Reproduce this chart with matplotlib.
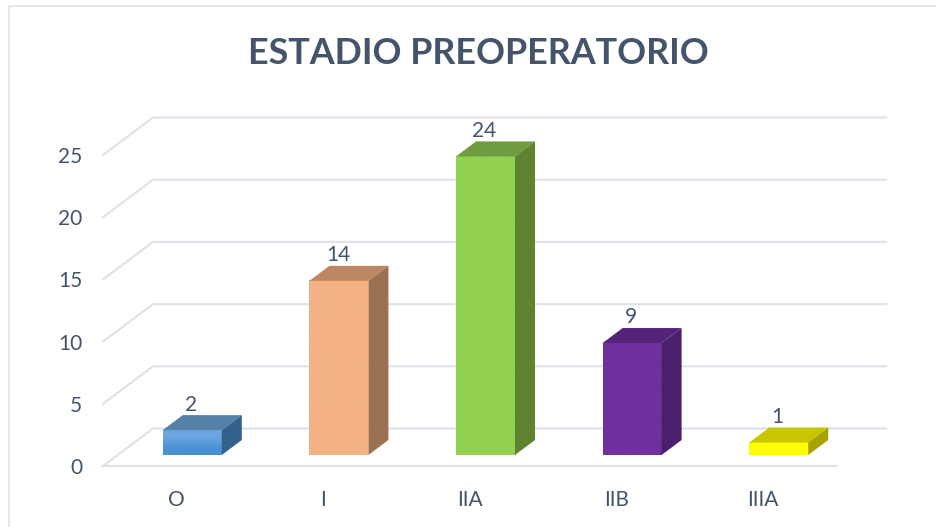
import numpy as np
import matplotlib
matplotlib.use('Agg')
import matplotlib.pyplot as plt
from matplotlib.patches import Polygon
from matplotlib.lines import Line2D

plt.rcParams['font.family'] = ['Lato', 'DejaVu Sans']

# data
categories = ['O', 'I', 'IIA', 'IIB', 'IIIA']
values = [2, 14, 24, 9, 1]
yticks = [0, 5, 10, 15, 20, 25]

# colours per bar
front_top = ['#6BA6E0', '#F4B183', '#92D050', '#7030A0', '#FFFF00']
front_bot = ['#4A8FD2', '#F4B183', '#92D050', '#7030A0', '#FFFF00']
top_col = ['#5680A8', '#BC8762', '#6F9C3E', '#55247A', '#C9C500']
side_col = ['#33608C', '#9C7152', '#5F8231', '#4A1F6C', '#A6A300']
grid_col = '#E1E3EA'
text_col = '#44546A'

W, H = 936, 527
fig = plt.figure(figsize=(W / 100, H / 100), dpi=100)
# front plane of the 3d box, in pixels: x 103-836, y 466-155
ax = fig.add_axes([103 / W, 1 - 466 / H, 733 / W, 311 / H])
ax.set_xlim(0, len(categories))
ax.set_ylim(0, 25)

# oblique offsets in data units
px = len(categories) / 733
py = 25 / 311
wall_dx, wall_dy = 50 * px, 37.5 * py
bar_dx, bar_dy = 16 * px, 11 * py
dep_dx, dep_dy = 20 * px, 15 * py
bar_w = 59 * px

# floor and walls
ax.plot([0, len(categories)], [0, 0], color=grid_col, lw=1.6, clip_on=False, zorder=1)
for t in yticks:
    ax.plot([0, wall_dx, len(categories) + wall_dx], [t, t + wall_dy, t + wall_dy],
            color=grid_col, lw=1.6, clip_on=False, zorder=1)

# bars
for i, v in enumerate(values):
    x0 = i + 0.5 + bar_dx - bar_w / 2
    x1 = x0 + bar_w
    y0 = bar_dy
    y1 = bar_dy + v
    grad = np.array([matplotlib.colors.to_rgb(front_top[i]), matplotlib.colors.to_rgb(front_bot[i])])
    ax.imshow(grad[:, None, :], extent=[x0, x1, y0, y1], aspect='auto',
              interpolation='bilinear', clip_on=False, zorder=3)
    ax.add_patch(Polygon([(x0, y1), (x1, y1), (x1 + dep_dx, y1 + dep_dy), (x0 + dep_dx, y1 + dep_dy)],
                         closed=True, fc=top_col[i], ec='none', clip_on=False, zorder=3))
    ax.add_patch(Polygon([(x1, y0), (x1 + dep_dx, y0 + dep_dy), (x1 + dep_dx, y1 + dep_dy), (x1, y1)],
                         closed=True, fc=side_col[i], ec='none', clip_on=False, zorder=3))
    ax.text((x0 + x1) / 2 - 1 * px, y1 + dep_dy + 0.85, str(v), ha='center', va='center',
            fontsize=15, color=text_col, zorder=4)

ax.set_xlim(0, len(categories))
ax.set_ylim(0, 25)

ax.set_xticks(np.arange(len(categories)) + 0.5)
ax.set_xticklabels(categories)
ax.set_yticks(yticks)
ax.tick_params(axis='x', length=0, pad=17, labelsize=15, labelcolor=text_col)
ax.tick_params(axis='y', length=0, pad=15, labelsize=15, labelcolor=text_col)
for s in ax.spines.values():
    s.set_visible(False)
ax.patch.set_alpha(0)

fig.text(478 / W, 1 - 53 / H, 'ESTADIO PREOPERATORIO', ha='center', va='center',
         fontsize=25.8, fontweight='bold', color=text_col)

# chart border, only top and left are visible in the crop
fig.add_artist(Line2D([8.5 / W, 8.5 / W, 1], [0, 1 - 5.5 / H, 1 - 5.5 / H],
                      color=grid_col, lw=1.2))

fig.savefig('out.png', dpi=100)
